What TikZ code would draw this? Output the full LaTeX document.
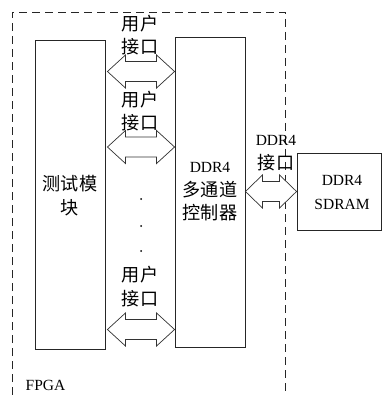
\documentclass[tikz,border=0pt]{standalone}
\usepackage{fontspec}
\setmainfont{Liberation Serif}
\newfontfamily\cjk{Noto Sans CJK SC}[Scale=1.17]
\usetikzlibrary{calc}
\newcommand\dblarr[3]{%
  \draw[arrowshape] (#1) -- ($(#1)+(#3,16.5)$) -- ($(#1)+(#3,10)$) -- ($(#2)+(-#3,10)$) -- ($(#2)+(-#3,16.5)$) -- (#2)
   -- ($(#2)+(-#3,-16.5)$) -- ($(#2)+(-#3,-10)$) -- ($(#1)+(#3,-10)$) -- ($(#1)+(#3,-16.5)$) -- cycle;}
\begin{document}
\begin{tikzpicture}[x=1pt,y=1pt,
  box/.style={draw=black!85,line width=0.9pt,fill=white,inner sep=0pt},
  arrowshape/.style={draw=black!80,line width=0.7pt,fill=white,line join=miter},
  lbl/.style={align=center,inner sep=0pt,font=\fontsize{15.5}{23.5}\selectfont},
  fpga/.style={draw=black!85,line width=0.8pt,dash pattern=on 8pt off 5pt}]
\useasboundingbox (0,0) rectangle (382,-395);
\fill[white] (0,0) rectangle (382,-395);
% FPGA dashed boundary
\coordinate (fbl) at (12,-395);
\coordinate (ftl) at (12,-12);
\coordinate (ftr) at (285,-12);
\coordinate (fbr) at (285,-395);
\draw[fpga] (fbl) -- (ftl) -- (ftr) -- (fbr);
\node[lbl,anchor=center] (fpgalbl) at (45.5,-385) {FPGA};
% boxes
\node[box,minimum width=70pt,minimum height=309pt] (test) at (70,-194.5) {};
\node[box,minimum width=70pt,minimum height=310pt] (ctrl) at (210,-192) {};
\node[box,minimum width=84pt,minimum height=77pt] (sdram) at (339,-192) {};
\node[lbl] (testt) at (70,-195.5) {{\cjk 测试模}\\{\cjk 块}};
\node[lbl] (ctrlt) at (210,-192) {DDR4\\{\cjk 多通道}\\{\cjk 控制器}};
\node[lbl] (sdramt) at (342,-192.5) {DDR4\\SDRAM};
% user interface arrows
\coordinate (a1l) at ($(test.east |- 0,-71.5)+(2,0)$);
\coordinate (a1r) at (ctrl.west |- 0,-71.5);
\coordinate (a2l) at ($(test.east |- 0,-147)+(2,0)$);
\coordinate (a2r) at (ctrl.west |- 0,-147);
\coordinate (a3l) at ($(test.east |- 0,-329.5)+(2,0)$);
\coordinate (a3r) at (ctrl.west |- 0,-329.5);
\dblarr{a1l}{a1r}{18}
\dblarr{a2l}{a2r}{18}
\dblarr{a3l}{a3r}{18}
\node[lbl] (ui1) at (140,-35) {{\cjk 用户}\\{\cjk 接口}};
\node[lbl] (ui2) at (140,-111) {{\cjk 用户}\\{\cjk 接口}};
\node[lbl] (ui3) at (140,-286.5) {{\cjk 用户}\\{\cjk 接口}};
% dots
\fill[black] (141,-199) circle (1pt);
\fill[black] (141,-226) circle (1pt);
\fill[black] (141,-251) circle (1pt);
% DDR4 interface arrow
\coordinate (d1l) at (ctrl.east |- 0,-191.5);
\coordinate (d1r) at (sdram.west |- 0,-191.5);
\dblarr{d1l}{d1r}{17}
\node[lbl] (ddrl) at (276,-153) {DDR4\\{\cjk 接口}};
\end{tikzpicture}
\end{document}
